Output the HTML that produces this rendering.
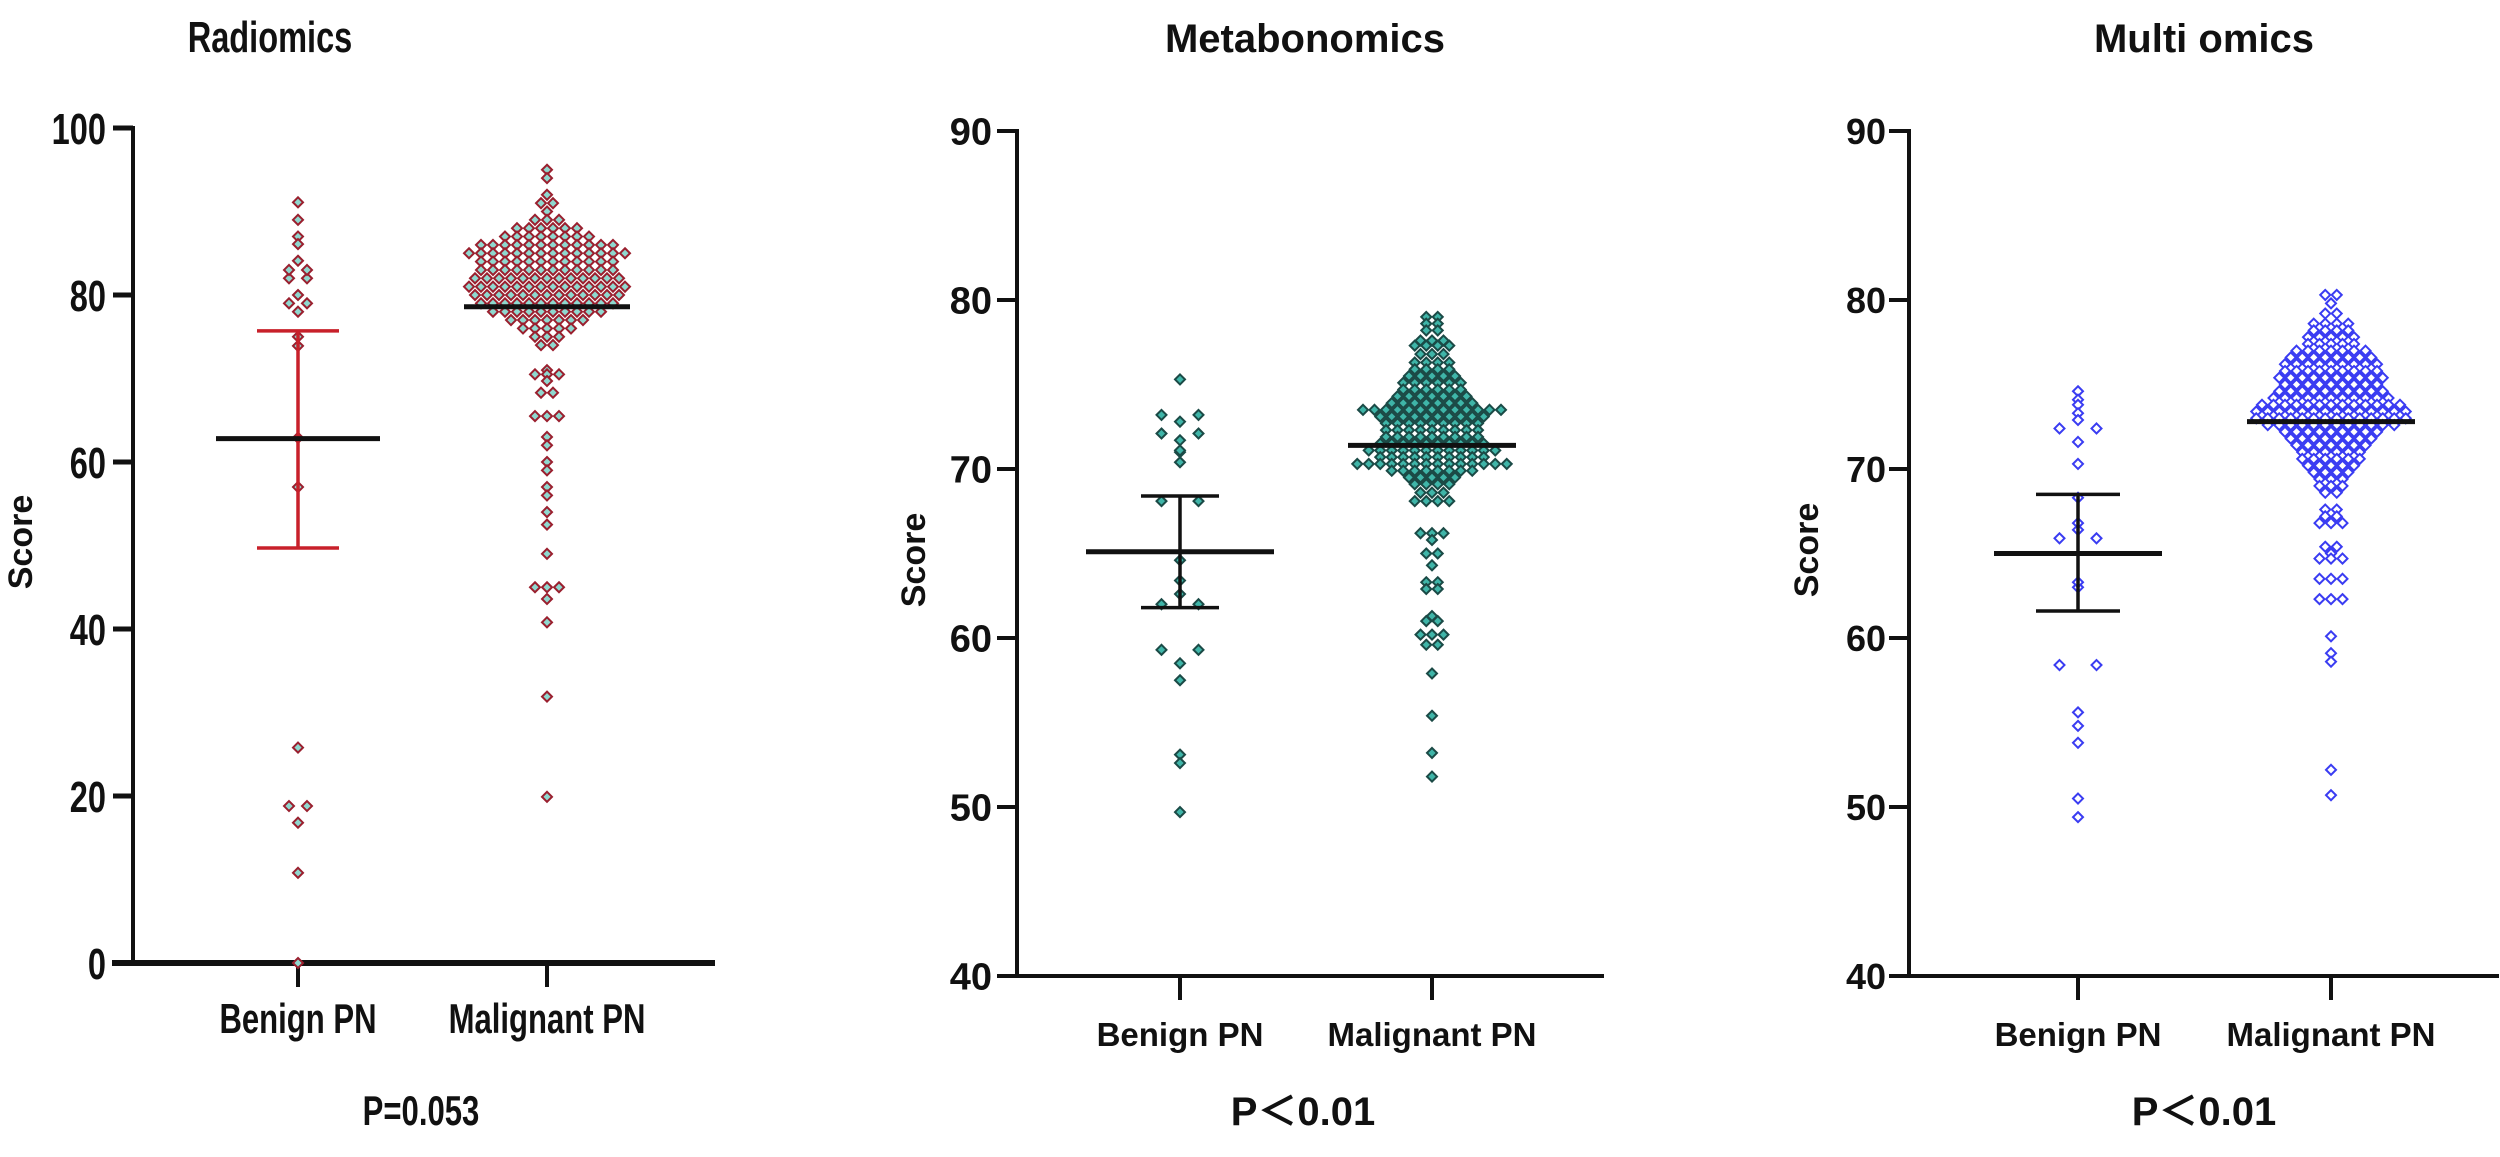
<!DOCTYPE html>
<html><head><meta charset="utf-8"><style>
html,body{margin:0;padding:0;background:#fff;}
svg{display:block;}
text{font-family:"Liberation Sans","Noto Sans CJK SC",sans-serif;font-weight:bold;fill:#111;}
</style></head><body>
<svg id="fig" width="2500" height="1157" viewBox="0 0 2500 1157" xmlns="http://www.w3.org/2000/svg"></svg>
<script>
// ---- Panel 1: Radiomics ----
const p1Categories = ["Benign PN","Malignant PN"];
const p1Ticks = [0,20,40,60,80,100];
const p1BenignValues = [91.1,89.0,87.0,86.1,84.1,83.0,83.0,82.0,82.0,80.0,79.0,79.0,78.0,75.0,73.9,62.9,57.0,25.8,18.8,18.8,16.8,10.8,0];
const p1MalLevels = [95,94,92,91,90,89,88,87,86,85,84,83,82,81,80,79,78,77,76,75,74,71,70.5,69.7,68.3,65.5,63,62,60,59,57,56,54,52.5,49,45,43.6,40.8,31.9,19.9];
const p1MalCounts = [1,1,1,2,1,3,6,8,12,14,12,12,13,14,13,12,10,7,5,3,2,1,3,1,2,3,1,1,1,1,1,1,1,1,1,3,1,1,1,1];
const p1Mean = [62.8,78.6];
const p1ErrLow = [49.7,78.6];
const p1ErrHigh = [75.7,78.6];
// ---- Panel 2: Metabonomics ----
const p2Categories = ["Benign PN","Malignant PN"];
const p2Ticks = [40,50,60,70,80,90];
const p2BenignValues = [75.3,73.2,73.2,72.8,72.1,72.1,71.7,71.1,71.0,70.4,68.1,68.1,64.6,63.4,62.6,62.0,62.0,59.3,59.3,58.5,57.5,53.1,52.6,49.7];
const p2MalLevels = [79.0,78.6,78.2,77.6,77.3,76.8,76.3,75.9,75.5,75.1,74.7,74.3,73.9,73.5,73.1,72.7,72.3,71.9,71.5,71.1,70.7,70.3,69.9,69.5,69.1,68.6,68.1,66.2,65.8,65.0,64.3,63.3,62.9,61.3,61.0,60.2,59.6,57.9,55.4,53.2,51.8];
const p2MalCounts = [2,2,2,3,4,3,4,4,5,6,6,7,8,13,10,9,9,9,10,12,10,14,8,5,4,3,4,3,1,2,1,2,2,1,2,3,2,1,1,1,1];
const p2Mean = [65.1,71.4];
const p2ErrLow = [61.8,71.4];
const p2ErrHigh = [68.4,71.4];
// ---- Panel 3: Multi omics ----
const p3Categories = ["Benign PN","Malignant PN"];
const p3Ticks = [40,50,60,70,80,90];
const p3BenignValues = [74.6,74.1,73.8,73.3,72.9,72.4,72.4,71.6,70.3,68.3,66.8,66.4,65.9,65.9,63.3,63.0,58.4,58.4,55.6,54.8,53.8,50.5,49.4];
const p3MalLevels = [80.3,79.8,79.2,78.6,78.2,77.8,77.4,77.0,76.6,76.2,75.8,75.4,75.0,74.6,74.2,73.8,73.4,73.0,72.6,72.2,71.8,71.4,71.0,70.6,70.2,69.8,69.4,69.0,68.6,67.6,67.2,66.8,65.4,65.0,64.7,63.5,62.3,60.1,59.1,58.6,52.2,50.7];
const p3MalCounts = [2,1,2,4,4,5,5,7,8,9,9,10,9,10,11,13,14,14,12,9,8,7,6,6,5,4,3,3,2,2,2,3,2,1,3,3,3,1,1,1,1,1];
const p3Mean = [65.0,72.8];
const p3ErrLow = [61.6,72.8];
const p3ErrHigh = [68.5,72.8];

const NS="http://www.w3.org/2000/svg";
const svg=document.getElementById('fig');
function mk(tag,attrs,parent){const e=document.createElementNS(NS,tag);for(const k in attrs)e.setAttribute(k,attrs[k]);(parent||svg).appendChild(e);return e;}

const panels=[
 {id:'radiomics',title:'Radiomics',p:'P=0.053',ax:133,x0:112,x1:715,yTop:128,yBot:963,vMin:0,vMax:100,ticks:p1Ticks,cats:p1Categories,cx:[298,547],
  benign:p1BenignValues,levels:p1MalLevels,counts:p1MalCounts,mean:p1Mean,lo:p1ErrLow,hi:p1ErrHigh,
  stroke:'#9a1f2e',fill:'#8fd8cf',errColor:'#c8202a',narrow:true,tickFont:44,catFont:42,titleX:270,pX:421,scoreX:32,scoreY:542,
  meanHalf:[82,83],capHalf:41,bSpace:9,mSpace:12,tickLabelRight:106},
 {id:'metabonomics',title:'Metabonomics',p:'P＜0.01',ax:1017,x0:1017,x1:1604,yTop:131,yBot:976,vMin:40,vMax:90,ticks:p2Ticks,cats:p2Categories,cx:[1180,1432],
  benign:p2BenignValues,levels:p2MalLevels,counts:p2MalCounts,mean:p2Mean,lo:p2ErrLow,hi:p2ErrHigh,
  stroke:'#1b4a46',fill:'#3fb5a8',errColor:'#111',narrow:false,tickFont:38,catFont:33,titleX:1305,pX:1303,scoreX:925,scoreY:560,
  meanHalf:[94,84],capHalf:39,bSpace:18.5,mSpace:11.5,tickLabelRight:992},
 {id:'multi-omics',title:'Multi omics',p:'P＜0.01',ax:1909,x0:1909,x1:2499,yTop:131,yBot:976,vMin:40,vMax:90,ticks:p3Ticks,cats:p3Categories,cx:[2078,2331],
  benign:p3BenignValues,levels:p3MalLevels,counts:p3MalCounts,mean:p3Mean,lo:p3ErrLow,hi:p3ErrHigh,
  stroke:'#3a3cf2',fill:'#ffffff',errColor:'#111',narrow:false,tickFont:36,catFont:33,titleX:2204,pX:2204,scoreX:1818,scoreY:550,
  meanHalf:[84,84],capHalf:42,bSpace:18.5,mSpace:11.5,tickLabelRight:1886}
];

function diamond(g,x,y,P){
  const r=5;
  const d=mk('polygon',{points:`${x},${y-r} ${x+r},${y} ${x},${y+r} ${x-r},${y}`,fill:P.fill,stroke:P.stroke,'stroke-width':2},g);
  
  
}

panels.forEach(P=>{
  const g=mk('g',{});
  
  
  const y=v=>P.yBot-(v-P.vMin)/(P.vMax-P.vMin)*(P.yBot-P.yTop);
  const narrowT=(el,x)=>{if(P.narrow){el.setAttribute('transform',`translate(${x},0) scale(0.74,1) translate(${-x},0)`);}};
  const t=mk('text',{x:P.titleX,y:52,'text-anchor':'middle','font-size':P.narrow?44:40},g);t.textContent=P.title;narrowT(t,P.titleX);
  
  const ya=mk('line',{x1:P.ax,y1:P.yTop-2,x2:P.ax,y2:P.yBot,stroke:'#111','stroke-width':4},g);
  
  const xa=mk('line',{x1:P.x0,y1:P.yBot,x2:P.x1,y2:P.yBot,stroke:'#111','stroke-width':P.narrow?6:4},g);
  
  P.ticks.forEach(v=>{
    const ty=y(v);
    const tk=mk('line',{x1:P.ax-20,y1:ty,x2:P.ax,y2:ty,stroke:'#111','stroke-width':P.narrow?5:4},g);
    
    const tl=mk('text',{x:P.tickLabelRight,y:ty+P.tickFont*0.36,'text-anchor':'end','font-size':P.tickFont},g);
    tl.textContent=v;narrowT(tl,P.tickLabelRight);
    
  });
  P.cats.forEach((c,i)=>{
    const x=P.cx[i];
    const tk=mk('line',{x1:x,y1:P.yBot,x2:x,y2:P.yBot+24,stroke:'#111','stroke-width':4},g);
    
    const cl=mk('text',{x:x,y:P.yBot+70,'text-anchor':'middle','font-size':P.catFont},g);
    cl.textContent=c;narrowT(cl,x);
    
  });
  const sc=mk('text',{x:P.scoreX,y:P.scoreY,'text-anchor':'middle','font-size':P.narrow?34:34,transform:`rotate(-90 ${P.scoreX} ${P.scoreY})`},g);
  sc.textContent='Score';
  const pt=mk('text',{x:P.pX,y:1125,'text-anchor':'middle','font-size':P.narrow?42:40},g);
  pt.textContent=P.p;narrowT(pt,P.pX);
  

  const bRows={};
  P.benign.forEach(v=>{(bRows[v]=bRows[v]||[]).push(v);});
  Object.keys(bRows).forEach(k=>{
    const n=bRows[k].length;
    for(let i=0;i<n;i++){
      const off=n===1?0:(i-(n-1)/2)*2*P.bSpace;
      diamond(g,P.cx[0]+off,y(+k),P);
    }
  });
  P.levels.forEach((v,j)=>{
    const n=P.counts[j];
    for(let i=0;i<n;i++){
      diamond(g,P.cx[1]+(i-(n-1)/2)*P.mSpace,y(v),P);
    }
  });
  [0,1].forEach(i=>{
    const x=P.cx[i];
    if(P.hi[i]!==P.lo[i]){
      const eb=mk('line',{x1:x,y1:y(P.hi[i]),x2:x,y2:y(P.lo[i]),stroke:P.errColor,'stroke-width':3.5},g);
      
      [P.hi[i],P.lo[i]].forEach(v=>{
        const cap=mk('line',{x1:x-P.capHalf,y1:y(v),x2:x+P.capHalf,y2:y(v),stroke:P.errColor,'stroke-width':3.5},g);
        
      });
    }
    const m=mk('line',{x1:x-P.meanHalf[i],y1:y(P.mean[i]),x2:x+P.meanHalf[i],y2:y(P.mean[i]),stroke:'#111','stroke-width':5},g);
    
  });
});
</script>
</body></html>
